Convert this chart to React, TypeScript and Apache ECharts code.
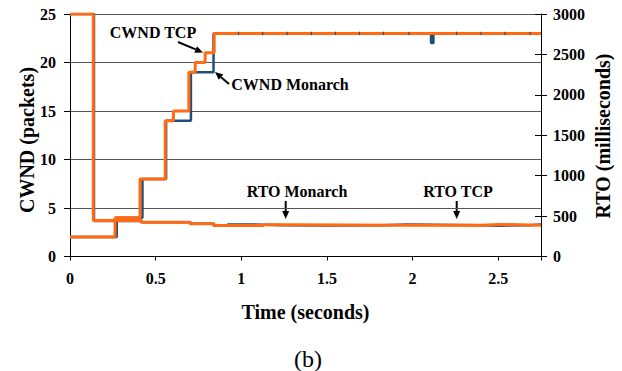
import React, { useEffect, useRef } from 'react';
import * as echarts from 'echarts';

// Time (s) at which each value starts, value held until the next point
const cwndTcp: [number, number][] = [
  [0, 2], [0.263, 4], [0.409, 8], [0.556, 14], [0.604, 15], [0.694, 19],
  [0.731, 20], [0.789, 21], [0.842, 23], [2.75, 23],
];
const cwndMonarch: [number, number][] = [
  [0, 2], [0.273, 4], [0.423, 8], [0.561, 14], [0.706, 19], [0.838, 23],
  [2.108, 22], [2.122, 23], [2.75, 23],
];
const rtoTcp: [number, number][] = [
  [0, 3000], [0.136, 445], [0.415, 425], [0.7, 405], [0.842, 382],
  [1.13, 392], [1.25, 386], [1.97, 388], [2.4, 396], [2.51, 388], [2.75, 388],
];
const rtoMonarch: [number, number][] = [
  [0, 3000], [0.14, 440], [0.42, 425], [0.705, 405], [0.838, 385],
  [0.92, 395], [1.07, 388], [1.25, 385], [1.5, 388], [1.83, 396],
  [1.97, 388], [2.4, 380], [2.51, 388], [2.68, 396], [2.75, 396],
];
// Sample points drawn as small marks on the Monarch CWND line
const monarchSampleTimes = [0.984, 1.125, 1.268, 1.409, 1.55, 1.69, 1.83, 1.98, 2.257, 2.4, 2.54, 2.686];
const monarchSampleValue = 23;

const xTickLabels = ['0', '0.5', '1', '1.5', '2', '2.5'];
const xTickStep = 0.5;

const ORANGE = '#FF6A13';
const BLUE = '#1F4E79';
const FONT = 'Liberation Serif';

export default function App() {
  const ref = useRef<HTMLDivElement>(null);
  useEffect(() => {
    const chart = echarts.init(ref.current!, null, { renderer: 'svg' });
    const labelStyle = { color: '#000', fontFamily: FONT, fontWeight: 'bold' as const, fontSize: 16 };
    const annot = (text: string, x: number, y: number, size = 16) => ({
      type: 'text', x, y, silent: true,
      style: { text, fill: '#000', font: `bold ${size}px "${FONT}"`, align: 'center', verticalAlign: 'middle' },
    });
    const arrow = (x1: number, y1: number, x2: number, y2: number) => {
      const dx = x2 - x1, dy = y2 - y1;
      const len = Math.hypot(dx, dy);
      const ux = dx / len, uy = dy / len;
      const hl = 8, hw = 3.5;
      const bx = x2 - ux * hl, by = y2 - uy * hl;
      return [
        { type: 'line', silent: true, shape: { x1, y1, x2: bx, y2: by }, style: { stroke: '#000', lineWidth: 2 } },
        {
          type: 'polygon', silent: true,
          shape: { points: [[x2, y2], [bx - uy * hw, by + ux * hw], [bx + uy * hw, by - ux * hw]] },
          style: { fill: '#000' },
        },
      ];
    };
    chart.setOption({
      animation: false,
      backgroundColor: '#fff',
      grid: { left: 70, top: 14, width: 471, height: 242.5 },
      xAxis: [{
        type: 'value', min: 0, max: 2.75, interval: xTickStep,
        axisLine: { show: true, lineStyle: { color: '#000', width: 1 } },
        axisTick: { show: true, length: 4, lineStyle: { color: '#000' } },
        splitLine: { show: false },
        axisLabel: {
          ...labelStyle, margin: 14,
          formatter: (v: number) => {
            const i = Math.round(v / xTickStep);
            return Math.abs(v - i * xTickStep) < 1e-6 && i < xTickLabels.length ? xTickLabels[i] : '';
          },
        },
      }],
      yAxis: [
        {
          type: 'value', min: 0, max: 25, interval: 5, position: 'left',
          axisLine: { show: true, lineStyle: { color: '#000', width: 1 } },
          axisTick: { show: true, length: 6, lineStyle: { color: '#000' } },
          splitLine: { show: true, lineStyle: { color: '#555', width: 1 } },
          axisLabel: { ...labelStyle, margin: 14, formatter: (v: number) => String(v) },
        },
        {
          type: 'value', min: 0, max: 3000, interval: 500, position: 'right',
          axisLine: { show: true, lineStyle: { color: '#000', width: 1 } },
          axisTick: { show: true, length: 6, lineStyle: { color: '#000' } },
          splitLine: { show: false },
          axisLabel: { ...labelStyle, margin: 12, formatter: (v: number) => String(v) },
        },
        {
          type: 'value', min: 0, max: 3000, interval: 500, position: 'right',
          axisLine: { show: false },
          axisTick: { show: true, inside: true, length: 6, lineStyle: { color: '#000' } },
          splitLine: { show: false },
          axisLabel: { show: false },
        },
      ],
      series: [
        {
          type: 'line', name: 'CWND Monarch', step: 'end', data: cwndMonarch, yAxisIndex: 0,
          showSymbol: false, lineStyle: { color: BLUE, width: 2.5 }, silent: true,
        },
        {
          type: 'line', name: 'RTO Monarch', step: 'end', data: rtoMonarch, yAxisIndex: 1,
          showSymbol: false, lineStyle: { color: BLUE, width: 2.5 }, silent: true,
        },
        {
          type: 'line', name: 'CWND TCP', step: 'end', data: cwndTcp, yAxisIndex: 0,
          showSymbol: false, lineStyle: { color: ORANGE, width: 3 }, silent: true,
        },
        {
          type: 'line', name: 'RTO TCP', step: 'end', data: rtoTcp, yAxisIndex: 1,
          showSymbol: false, lineStyle: { color: ORANGE, width: 3 }, silent: true,
        },
        {
          type: 'scatter', name: 'Monarch samples', yAxisIndex: 0, z: 5, silent: true,
          data: monarchSampleTimes.map((t) => [t, monarchSampleValue]),
          symbol: 'rect', symbolSize: [1.2, 3.5], itemStyle: { color: '#2a3e58' },
        },
      ],
      graphic: [
        annot('CWND TCP', 153, 32.5),
        annot('CWND Monarch', 290, 84.5),
        annot('RTO Monarch', 297, 191),
        annot('RTO TCP', 458, 191),
        ...arrow(178, 42, 203, 52.5),
        ...arrow(229, 84, 215, 72),
        ...arrow(285.7, 201, 285.7, 219),
        ...arrow(456.7, 201, 456.7, 219),
        { ...annot('CWND (packets)', 27, 140, 20), rotation: Math.PI / 2 },
        { ...annot('RTO (milliseconds)', 603, 136, 20), rotation: Math.PI / 2 },
        annot('Time (seconds)', 305.5, 311.7, 20),
        {
          type: 'text', x: 308, y: 359, silent: true,
          style: { text: '(b)', fill: '#000', font: `24px "${FONT}"`, align: 'center', verticalAlign: 'middle' },
        },
      ],
    });
    return () => chart.dispose();
  }, []);
  return <div ref={ref} style={{ position: 'absolute', left: 0, top: 0, width: 622, height: 371 }} />;
}
